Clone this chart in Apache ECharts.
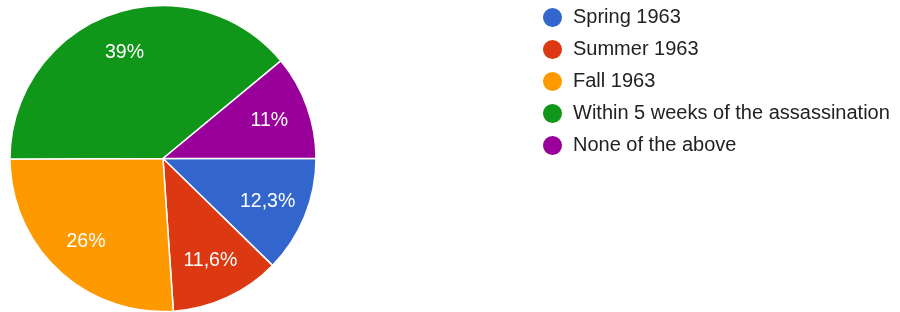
<!DOCTYPE html>
<html>
<head>
<meta charset="utf-8">
<script src="https://cdn.jsdelivr.net/npm/echarts@6/dist/echarts.min.js"></script>
<style>
  html, body { margin: 0; padding: 0; background: #fff; }
  #chart { width: 900px; height: 312px; }
</style>
</head>
<body>
<div id="chart"></div>
<script>
// answers, in clockwise order from 3 o'clock
const categories = ['Spring 1963', 'Summer 1963', 'Fall 1963', 'Within 5 weeks of the assassination', 'None of the above'];
const values = [12.3, 11.6, 26, 39, 11];
const labels = ['12,3%', '11,6%', '26%', '39%', '11%'];
const colors = ['#3366cc', '#dc3912', '#ff9900', '#109618', '#990099'];

const font = 'Arial, "Liberation Sans", sans-serif';

const chart = echarts.init(document.getElementById('chart'), null, { renderer: 'canvas' });

chart.setOption({
  backgroundColor: '#fff',
  animation: false,
  legend: {
    orient: 'vertical',
    left: 536,
    top: 1,
    icon: 'circle',
    itemWidth: 21,
    itemHeight: 21,
    itemGap: 9,
    data: categories,
    textStyle: { color: '#222', fontSize: 20, fontFamily: font, lineHeight: 20, padding: [0, 0, 0, 5] }
  },
  series: [
    {
      // the slices themselves
      type: 'pie',
      center: [163, 158.5],
      radius: [0, 153],
      startAngle: 0,
      clockwise: true,
      silent: true,
      label: { show: false },
      labelLine: { show: false },
      itemStyle: { borderColor: '#fff', borderWidth: 1.5 },
      data: categories.map((name, i) => ({
        name: name,
        value: values[i],
        itemStyle: { color: colors[i] }
      }))
    },
    {
      // invisible ring, only used to place the labels further out
      type: 'pie',
      center: [163, 158.5],
      radius: [67, 153],
      startAngle: 0,
      clockwise: true,
      silent: true,
      legendHoverLink: false,
      itemStyle: { color: 'rgba(0,0,0,0)', borderWidth: 0 },
      labelLine: { show: false },
      label: {
        show: true,
        position: 'inside',
        color: '#fff',
        fontSize: 19.5,
        fontFamily: font,
        formatter: (p) => labels[p.dataIndex]
      },
      data: categories.map((name, i) => ({ name: name, value: values[i] }))
    }
  ]
});
</script>
</body>
</html>
